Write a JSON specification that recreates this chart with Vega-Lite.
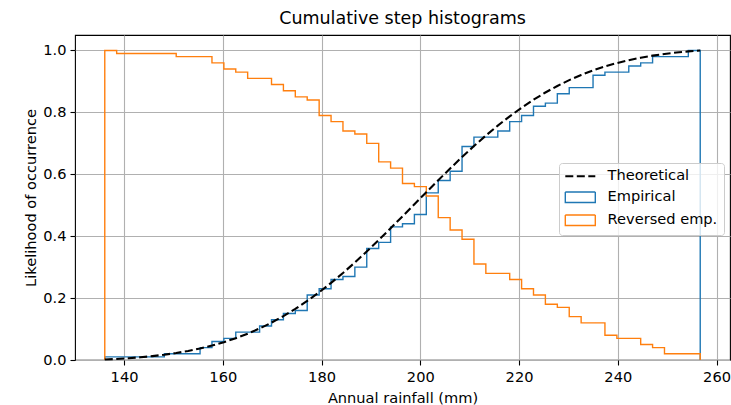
{
  "$schema": "https://vega.github.io/schema/vega-lite/v6.json",
  "width": 655,
  "height": 325,
  "autosize": {"type": "none"},
  "padding": {"left": 75, "top": 35, "right": 1, "bottom": 45},
  "background": "white",
  "title": {"text": "Cumulative step histograms", "fontSize": 17.5, "font": "DejaVu Sans", "fontWeight": "normal", "color": "black", "offset": 8},
  "config": {
    "view": {"stroke": "black", "strokeWidth": 1.1},
    "axis": {
      "domain": false,
      "grid": true,
      "gridColor": "#b0b0b0",
      "gridWidth": 1.1,
      "tickColor": "black",
      "tickSize": 5,
      "tickWidth": 1.1,
      "labelFont": "DejaVu Sans",
      "labelFontSize": 14.6,
      "labelColor": "black",
      "labelPadding": 4,
      "titleFont": "DejaVu Sans",
      "titleFontSize": 14.6,
      "titleFontWeight": "normal",
      "titleColor": "black"
    },
    "legend": {
      "labelFont": "DejaVu Sans",
      "labelFontSize": 14.6,
      "labelColor": "black"
    }
  },
  "datasets": {
    "hist": [
      {"series": "Empirical", "rain": 136.10, "p": 0, "order": 0},
      {"series": "Empirical", "rain": 136.10, "p": 0.01, "order": 1},
      {"series": "Empirical", "rain": 138.51, "p": 0.01, "order": 2},
      {"series": "Empirical", "rain": 140.92, "p": 0.01, "order": 3},
      {"series": "Empirical", "rain": 143.34, "p": 0.01, "order": 4},
      {"series": "Empirical", "rain": 145.75, "p": 0.01, "order": 5},
      {"series": "Empirical", "rain": 148.16, "p": 0.02, "order": 6},
      {"series": "Empirical", "rain": 150.57, "p": 0.02, "order": 7},
      {"series": "Empirical", "rain": 152.98, "p": 0.02, "order": 8},
      {"series": "Empirical", "rain": 155.40, "p": 0.04, "order": 9},
      {"series": "Empirical", "rain": 157.81, "p": 0.06, "order": 10},
      {"series": "Empirical", "rain": 160.22, "p": 0.07, "order": 11},
      {"series": "Empirical", "rain": 162.63, "p": 0.09, "order": 12},
      {"series": "Empirical", "rain": 165.04, "p": 0.09, "order": 13},
      {"series": "Empirical", "rain": 167.46, "p": 0.11, "order": 14},
      {"series": "Empirical", "rain": 169.87, "p": 0.13, "order": 15},
      {"series": "Empirical", "rain": 172.28, "p": 0.15, "order": 16},
      {"series": "Empirical", "rain": 174.69, "p": 0.16, "order": 17},
      {"series": "Empirical", "rain": 177.10, "p": 0.21, "order": 18},
      {"series": "Empirical", "rain": 179.52, "p": 0.23, "order": 19},
      {"series": "Empirical", "rain": 181.93, "p": 0.26, "order": 20},
      {"series": "Empirical", "rain": 184.34, "p": 0.27, "order": 21},
      {"series": "Empirical", "rain": 186.75, "p": 0.30, "order": 22},
      {"series": "Empirical", "rain": 189.16, "p": 0.36, "order": 23},
      {"series": "Empirical", "rain": 191.58, "p": 0.38, "order": 24},
      {"series": "Empirical", "rain": 193.99, "p": 0.43, "order": 25},
      {"series": "Empirical", "rain": 196.40, "p": 0.44, "order": 26},
      {"series": "Empirical", "rain": 198.81, "p": 0.47, "order": 27},
      {"series": "Empirical", "rain": 201.22, "p": 0.54, "order": 28},
      {"series": "Empirical", "rain": 203.64, "p": 0.58, "order": 29},
      {"series": "Empirical", "rain": 206.05, "p": 0.61, "order": 30},
      {"series": "Empirical", "rain": 208.46, "p": 0.69, "order": 31},
      {"series": "Empirical", "rain": 210.87, "p": 0.72, "order": 32},
      {"series": "Empirical", "rain": 213.28, "p": 0.72, "order": 33},
      {"series": "Empirical", "rain": 215.70, "p": 0.74, "order": 34},
      {"series": "Empirical", "rain": 218.11, "p": 0.77, "order": 35},
      {"series": "Empirical", "rain": 220.52, "p": 0.79, "order": 36},
      {"series": "Empirical", "rain": 222.93, "p": 0.82, "order": 37},
      {"series": "Empirical", "rain": 225.34, "p": 0.83, "order": 38},
      {"series": "Empirical", "rain": 227.76, "p": 0.86, "order": 39},
      {"series": "Empirical", "rain": 230.17, "p": 0.88, "order": 40},
      {"series": "Empirical", "rain": 232.58, "p": 0.88, "order": 41},
      {"series": "Empirical", "rain": 234.99, "p": 0.92, "order": 42},
      {"series": "Empirical", "rain": 237.40, "p": 0.93, "order": 43},
      {"series": "Empirical", "rain": 239.82, "p": 0.93, "order": 44},
      {"series": "Empirical", "rain": 242.23, "p": 0.95, "order": 45},
      {"series": "Empirical", "rain": 244.64, "p": 0.96, "order": 46},
      {"series": "Empirical", "rain": 247.05, "p": 0.98, "order": 47},
      {"series": "Empirical", "rain": 249.46, "p": 0.98, "order": 48},
      {"series": "Empirical", "rain": 251.88, "p": 0.98, "order": 49},
      {"series": "Empirical", "rain": 254.29, "p": 1.00, "order": 50},
      {"series": "Empirical", "rain": 256.70, "p": 0, "order": 51},
      {"series": "Reversed emp.", "rain": 136.10, "p": 0, "order": 0},
      {"series": "Reversed emp.", "rain": 136.10, "p": 1.00, "order": 1},
      {"series": "Reversed emp.", "rain": 138.51, "p": 0.99, "order": 2},
      {"series": "Reversed emp.", "rain": 140.92, "p": 0.99, "order": 3},
      {"series": "Reversed emp.", "rain": 143.34, "p": 0.99, "order": 4},
      {"series": "Reversed emp.", "rain": 145.75, "p": 0.99, "order": 5},
      {"series": "Reversed emp.", "rain": 148.16, "p": 0.99, "order": 6},
      {"series": "Reversed emp.", "rain": 150.57, "p": 0.98, "order": 7},
      {"series": "Reversed emp.", "rain": 152.98, "p": 0.98, "order": 8},
      {"series": "Reversed emp.", "rain": 155.40, "p": 0.98, "order": 9},
      {"series": "Reversed emp.", "rain": 157.81, "p": 0.96, "order": 10},
      {"series": "Reversed emp.", "rain": 160.22, "p": 0.94, "order": 11},
      {"series": "Reversed emp.", "rain": 162.63, "p": 0.93, "order": 12},
      {"series": "Reversed emp.", "rain": 165.04, "p": 0.91, "order": 13},
      {"series": "Reversed emp.", "rain": 167.46, "p": 0.91, "order": 14},
      {"series": "Reversed emp.", "rain": 169.87, "p": 0.89, "order": 15},
      {"series": "Reversed emp.", "rain": 172.28, "p": 0.87, "order": 16},
      {"series": "Reversed emp.", "rain": 174.69, "p": 0.85, "order": 17},
      {"series": "Reversed emp.", "rain": 177.10, "p": 0.84, "order": 18},
      {"series": "Reversed emp.", "rain": 179.52, "p": 0.79, "order": 19},
      {"series": "Reversed emp.", "rain": 181.93, "p": 0.77, "order": 20},
      {"series": "Reversed emp.", "rain": 184.34, "p": 0.74, "order": 21},
      {"series": "Reversed emp.", "rain": 186.75, "p": 0.73, "order": 22},
      {"series": "Reversed emp.", "rain": 189.16, "p": 0.70, "order": 23},
      {"series": "Reversed emp.", "rain": 191.58, "p": 0.64, "order": 24},
      {"series": "Reversed emp.", "rain": 193.99, "p": 0.62, "order": 25},
      {"series": "Reversed emp.", "rain": 196.40, "p": 0.57, "order": 26},
      {"series": "Reversed emp.", "rain": 198.81, "p": 0.56, "order": 27},
      {"series": "Reversed emp.", "rain": 201.22, "p": 0.53, "order": 28},
      {"series": "Reversed emp.", "rain": 203.64, "p": 0.46, "order": 29},
      {"series": "Reversed emp.", "rain": 206.05, "p": 0.42, "order": 30},
      {"series": "Reversed emp.", "rain": 208.46, "p": 0.39, "order": 31},
      {"series": "Reversed emp.", "rain": 210.87, "p": 0.31, "order": 32},
      {"series": "Reversed emp.", "rain": 213.28, "p": 0.28, "order": 33},
      {"series": "Reversed emp.", "rain": 215.70, "p": 0.28, "order": 34},
      {"series": "Reversed emp.", "rain": 218.11, "p": 0.26, "order": 35},
      {"series": "Reversed emp.", "rain": 220.52, "p": 0.23, "order": 36},
      {"series": "Reversed emp.", "rain": 222.93, "p": 0.21, "order": 37},
      {"series": "Reversed emp.", "rain": 225.34, "p": 0.18, "order": 38},
      {"series": "Reversed emp.", "rain": 227.76, "p": 0.17, "order": 39},
      {"series": "Reversed emp.", "rain": 230.17, "p": 0.14, "order": 40},
      {"series": "Reversed emp.", "rain": 232.58, "p": 0.12, "order": 41},
      {"series": "Reversed emp.", "rain": 234.99, "p": 0.12, "order": 42},
      {"series": "Reversed emp.", "rain": 237.40, "p": 0.08, "order": 43},
      {"series": "Reversed emp.", "rain": 239.82, "p": 0.07, "order": 44},
      {"series": "Reversed emp.", "rain": 242.23, "p": 0.07, "order": 45},
      {"series": "Reversed emp.", "rain": 244.64, "p": 0.05, "order": 46},
      {"series": "Reversed emp.", "rain": 247.05, "p": 0.04, "order": 47},
      {"series": "Reversed emp.", "rain": 249.46, "p": 0.02, "order": 48},
      {"series": "Reversed emp.", "rain": 251.88, "p": 0.02, "order": 49},
      {"series": "Reversed emp.", "rain": 254.29, "p": 0.02, "order": 50},
      {"series": "Reversed emp.", "rain": 256.70, "p": 0, "order": 51}
    ],
    "theory": [
      {"series": "Theoretical", "rain": 136.10, "p": 0.0015},
      {"series": "Theoretical", "rain": 138.51, "p": 0.0034},
      {"series": "Theoretical", "rain": 140.92, "p": 0.0058},
      {"series": "Theoretical", "rain": 143.34, "p": 0.0088},
      {"series": "Theoretical", "rain": 145.75, "p": 0.0125},
      {"series": "Theoretical", "rain": 148.16, "p": 0.0170},
      {"series": "Theoretical", "rain": 150.57, "p": 0.0226},
      {"series": "Theoretical", "rain": 152.98, "p": 0.0292},
      {"series": "Theoretical", "rain": 155.40, "p": 0.0372},
      {"series": "Theoretical", "rain": 157.81, "p": 0.0466},
      {"series": "Theoretical", "rain": 160.22, "p": 0.0576},
      {"series": "Theoretical", "rain": 162.63, "p": 0.0704},
      {"series": "Theoretical", "rain": 165.04, "p": 0.0851},
      {"series": "Theoretical", "rain": 167.46, "p": 0.1018},
      {"series": "Theoretical", "rain": 169.87, "p": 0.1207},
      {"series": "Theoretical", "rain": 172.28, "p": 0.1419},
      {"series": "Theoretical", "rain": 174.69, "p": 0.1653},
      {"series": "Theoretical", "rain": 177.10, "p": 0.1910},
      {"series": "Theoretical", "rain": 179.52, "p": 0.2189},
      {"series": "Theoretical", "rain": 181.93, "p": 0.2490},
      {"series": "Theoretical", "rain": 184.34, "p": 0.2811},
      {"series": "Theoretical", "rain": 186.75, "p": 0.3150},
      {"series": "Theoretical", "rain": 189.16, "p": 0.3506},
      {"series": "Theoretical", "rain": 191.58, "p": 0.3875},
      {"series": "Theoretical", "rain": 193.99, "p": 0.4255},
      {"series": "Theoretical", "rain": 196.40, "p": 0.4641},
      {"series": "Theoretical", "rain": 198.81, "p": 0.5032},
      {"series": "Theoretical", "rain": 201.22, "p": 0.5422},
      {"series": "Theoretical", "rain": 203.64, "p": 0.5808},
      {"series": "Theoretical", "rain": 206.05, "p": 0.6188},
      {"series": "Theoretical", "rain": 208.46, "p": 0.6557},
      {"series": "Theoretical", "rain": 210.87, "p": 0.6912},
      {"series": "Theoretical", "rain": 213.28, "p": 0.7252},
      {"series": "Theoretical", "rain": 215.70, "p": 0.7572},
      {"series": "Theoretical", "rain": 218.11, "p": 0.7873},
      {"series": "Theoretical", "rain": 220.52, "p": 0.8152},
      {"series": "Theoretical", "rain": 222.93, "p": 0.8408},
      {"series": "Theoretical", "rain": 225.34, "p": 0.8642},
      {"series": "Theoretical", "rain": 227.76, "p": 0.8853},
      {"series": "Theoretical", "rain": 230.17, "p": 0.9042},
      {"series": "Theoretical", "rain": 232.58, "p": 0.9209},
      {"series": "Theoretical", "rain": 234.99, "p": 0.9356},
      {"series": "Theoretical", "rain": 237.40, "p": 0.9483},
      {"series": "Theoretical", "rain": 239.82, "p": 0.9593},
      {"series": "Theoretical", "rain": 242.23, "p": 0.9687},
      {"series": "Theoretical", "rain": 244.64, "p": 0.9766},
      {"series": "Theoretical", "rain": 247.05, "p": 0.9833},
      {"series": "Theoretical", "rain": 249.46, "p": 0.9888},
      {"series": "Theoretical", "rain": 251.88, "p": 0.9933},
      {"series": "Theoretical", "rain": 254.29, "p": 0.9970},
      {"series": "Theoretical", "rain": 256.70, "p": 1.0000}
    ]
  },
  "encoding": {
    "x": {
      "field": "rain",
      "type": "quantitative",
      "scale": {"domain": [130.07, 262.73], "nice": false, "zero": false},
      "axis": {"values": [140, 160, 180, 200, 220, 240, 260], "title": "Annual rainfall (mm)", "titlePadding": 7}
    },
    "y": {
      "field": "p",
      "type": "quantitative",
      "scale": {"domain": [0, 1.05], "nice": false},
      "axis": {"values": [0, 0.2, 0.4, 0.6, 0.8, 1.0], "format": ".1f", "title": "Likelihood of occurrence", "titlePadding": 4}
    },
    "color": {
      "field": "series",
      "type": "nominal",
      "scale": {"domain": ["Theoretical", "Empirical", "Reversed emp."], "range": ["#000000", "#1f77b4", "#ff7f0e"]},
      "legend": {
        "title": null,
        "orient": "none",
        "legendX": 484,
        "legendY": 128,
        "padding": 6,
        "fillColor": "rgba(255,255,255,0.8)",
        "strokeColor": "#cccccc",
        "cornerRadius": 3,
        "symbolSize": 900,
        "symbolType": "stroke",
        "symbolOffset": 8,
        "labelOffset": 20,
        "rowPadding": 6,
        "encode": {
          "symbols": {
            "update": {
              "shape": {"signal": "datum.value === 'Theoretical' ? 'stroke' : 'M-1,-0.35H1V0.35H-1Z'"},
              "strokeWidth": {"signal": "datum.value === 'Theoretical' ? 2.1 : 1.4"},
              "fill": {"value": "transparent"}
            }
          }
        }
      }
    },
    "strokeDash": {
      "field": "series",
      "type": "nominal",
      "scale": {"domain": ["Theoretical", "Empirical", "Reversed emp."], "range": [[8, 3.5], [1, 0], [1, 0]]},
      "legend": {
        "title": null,
        "orient": "none",
        "legendX": 484,
        "legendY": 128,
        "padding": 6,
        "fillColor": "rgba(255,255,255,0.8)",
        "strokeColor": "#cccccc",
        "cornerRadius": 3,
        "symbolSize": 900,
        "symbolType": "stroke",
        "symbolOffset": 8,
        "labelOffset": 20,
        "rowPadding": 6
      }
    }
  },
  "layer": [
    {
      "data": {"name": "hist"},
      "mark": {"type": "line", "interpolate": "step-after", "strokeWidth": 1.4},
      "encoding": {"order": {"field": "order", "type": "quantitative"}}
    },
    {
      "data": {"name": "theory"},
      "mark": {"type": "line", "strokeWidth": 2.1},
      "encoding": {}
    }
  ]
}
